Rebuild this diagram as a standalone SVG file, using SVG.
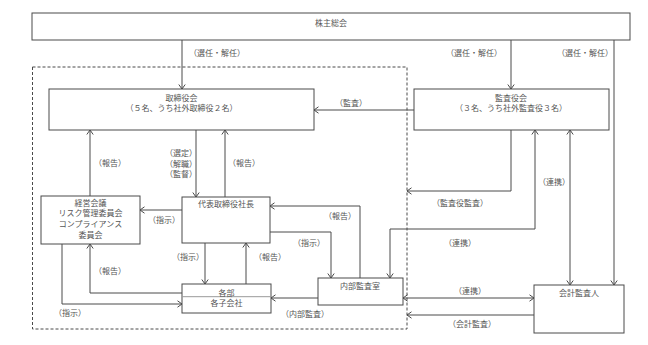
<svg xmlns="http://www.w3.org/2000/svg" width="648" height="345" viewBox="0 0 648 345">
<style>
.box{fill:#fff;stroke:#4a4a4a;stroke-width:1}
.ln{fill:none;stroke:#4a4a4a;stroke-width:1}
.t{font-family:"Noto Sans CJK JP","Noto Sans",sans-serif;font-size:8px;fill:#555;text-anchor:middle}
</style>
<defs>
<marker id="ah" viewBox="0 0 8 8" refX="8" refY="4" markerWidth="8" markerHeight="8" markerUnits="userSpaceOnUse" orient="auto-start-reverse">
<path d="M3.5,0.8 L8,4 L3.5,7.2" fill="none" stroke="#4a4a4a" stroke-width="1"/>
</marker>
</defs>
<rect x="0" y="0" width="648" height="345" fill="#fff"/>
<rect x="32.5" y="67" width="374.5" height="262" fill="none" stroke="#4a4a4a" stroke-width="1" stroke-dasharray="3,2"/>
<g id="connectors">
<path class="ln" d="M182,40V89" marker-end="url(#ah)"/>
<path class="ln" d="M511,40V89" marker-end="url(#ah)"/>
<path class="ln" d="M614,40V285" marker-end="url(#ah)"/>
<path class="ln" d="M414,110H314" marker-end="url(#ah)"/>
<path class="ln" d="M90,196V130" marker-end="url(#ah)"/>
<path class="ln" d="M196,130V197" marker-end="url(#ah)"/>
<path class="ln" d="M225,197V130" marker-end="url(#ah)"/>
<path class="ln" d="M182,210H140" marker-end="url(#ah)"/>
<path class="ln" d="M360,278V206H270" marker-end="url(#ah)"/>
<path class="ln" d="M270,232H331V278" marker-end="url(#ah)"/>
<path class="ln" d="M205,243V284" marker-end="url(#ah)"/>
<path class="ln" d="M246,284V243" marker-end="url(#ah)"/>
<path class="ln" d="M182,293H90V244" marker-end="url(#ah)"/>
<path class="ln" d="M62,244V304H182" marker-end="url(#ah)"/>
<path class="ln" d="M318,298H271" marker-end="url(#ah)"/>
<path class="ln" d="M511,130V191H407" marker-end="url(#ah)"/>
<path class="ln" d="M390,278V229H535V130" marker-start="url(#ah)" marker-end="url(#ah)"/>
<path class="ln" d="M570,130V285" marker-start="url(#ah)" marker-end="url(#ah)"/>
<path class="ln" d="M403,298H534" marker-start="url(#ah)" marker-end="url(#ah)"/>
<path class="ln" d="M534,315H407" marker-end="url(#ah)"/>
</g>
<g id="labels">
<text class="t" x="217" y="56.3">（選任・解任）</text>
<text class="t" x="474" y="56.3">（選任・解任）</text>
<text class="t" x="585" y="56.3">（選任・解任）</text>
<text class="t" x="351" y="106">（監査）</text>
<text class="t" x="110" y="165.7">（報告）</text>
<text class="t" x="181" y="155.7">（選定）</text>
<text class="t" x="181" y="166.7">（解職）</text>
<text class="t" x="181" y="177">（監督）</text>
<text class="t" x="244" y="166">（報告）</text>
<text class="t" x="164" y="223">（指示）</text>
<text class="t" x="188" y="260.3">（指示）</text>
<text class="t" x="270" y="260.3">（報告）</text>
<text class="t" x="110" y="274.3">（報告）</text>
<text class="t" x="70" y="315.7">（指示）</text>
<text class="t" x="305" y="316.7">（内部監査）</text>
<text class="t" x="340" y="219">（報告）</text>
<text class="t" x="309" y="245.5">（指示）</text>
<text class="t" x="460" y="205.7">（監査役監査）</text>
<text class="t" x="460" y="246">（連携）</text>
<text class="t" x="554" y="184.7">（連携）</text>
<text class="t" x="470" y="294">（連携）</text>
<text class="t" x="472" y="326.7">（会計監査）</text>
</g>
<g id="shareholders">
<rect class="box" x="32" y="13" width="598" height="27"/>
<text class="t" x="331" y="25.7">株主総会</text>
</g>
<g id="board">
<rect class="box" x="49" y="89" width="265" height="41"/>
<text class="t" x="181.5" y="100.7">取締役会</text>
<text class="t" x="181.5" y="111.3">（５名、うち社外取締役２名）</text>
</g>
<g id="auditors">
<rect class="box" x="414" y="89" width="195" height="41"/>
<text class="t" x="511" y="100.7">監査役会</text>
<text class="t" x="511" y="111.3">（３名、うち社外監査役３名）</text>
</g>
<g id="committees">
<rect class="box" x="41" y="196" width="99" height="48"/>
<text class="t" x="90.5" y="205.7">経営会議</text>
<text class="t" x="90.5" y="216.3">リスク管理委員会</text>
<text class="t" x="90.5" y="227.3">コンプライアンス</text>
<text class="t" x="90.5" y="238.3">委員会</text>
</g>
<g id="president">
<rect class="box" x="182" y="197" width="88" height="46"/>
<text class="t" x="226" y="207">代表取締役社長</text>
</g>
<g id="departments">
<rect class="box" x="182" y="284" width="89" height="29"/>
<line x1="182" y1="296.7" x2="271" y2="296.7" stroke="#999" stroke-width="1"/>
<text class="t" x="226.5" y="295.5">各部</text>
<text class="t" x="226.5" y="306.3">各子会社</text>
</g>
<g id="internal-audit">
<rect class="box" x="318" y="278" width="85" height="27"/>
<text class="t" x="360" y="288.7">内部監査室</text>
</g>
<g id="accounting-auditor">
<rect class="box" x="534" y="285" width="90" height="48"/>
<text class="t" x="579" y="295.7">会計監査人</text>
</g>
</svg>
